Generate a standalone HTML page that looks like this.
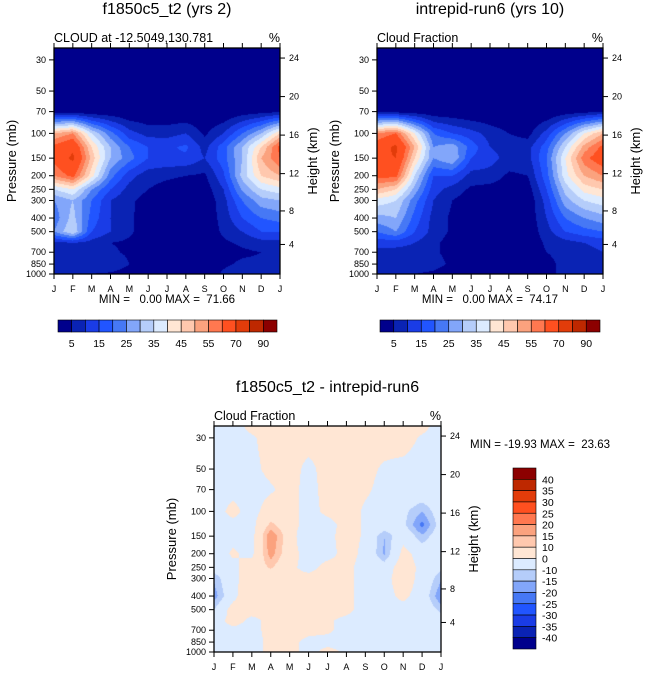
<!DOCTYPE html>
<html><head><meta charset="utf-8">
<style>
html,body{margin:0;padding:0;background:#fff;}
#wrap{position:relative;width:647px;height:676px;overflow:hidden;font-family:"Liberation Sans",sans-serif;}
canvas{position:absolute;}
svg{position:absolute;left:0;top:0;}
text{white-space:pre;}
</style></head>
<body>
<div id="wrap">
<canvas id="c1" width="226" height="226" style="left:54px;top:48px"></canvas>
<canvas id="c2" width="226" height="226" style="left:377px;top:48px"></canvas>
<canvas id="c3" width="227" height="226" style="left:214px;top:426px"></canvas>
<svg id="s" width="647" height="676"></svg>
</div>
<script>
const months = ["J","F","M","A","M","J","J","A","S","O","N","D","J"];
const pressures = [25,30,50,70,100,125,150,200,250,300,400,500,600,700,850,1000];
const pressureTicks = [30,50,70,100,150,200,250,300,400,500,700,850,1000];
const heightTicks = [4,8,12,16,20,24];
const absLevels = [5,10,15,20,25,30,35,40,45,50,55,60,70,80,90];
const absBarLabels = [5,15,25,35,45,55,70,90];
const diffLevels = [-40,-35,-30,-25,-20,-15,-10,0,10,15,20,25,30,35,40];
const diffBarLabels = [40,35,30,25,20,15,10,0,-10,-15,-20,-25,-30,-35,-40];
const palette = ["#00008c","#0a23b4","#1a3ce6","#2155ff","#4678f5","#82a6fa","#b5cdfa","#dcebff","#ffe6d4","#ffc8ae","#fba27e","#ff7850","#ff5020","#e23c0a","#be2800","#8c0000"];
// rows = pressures, cols = months
const cloudA = [
[0,0,0,0,0,0,0,0,0,0,0,0,0],
[0,0,0,0,0,0,0,0,0,0,0,0,0],
[0,0,0,0,0,0,0,0,0,0,0,0,0],
[3,2,1,1,0,0,0,0,0,0,2,3,4],
[50,55,35,22,12,8,8,10,4,10,20,30,45],
[62,68,45,30,20,15,14,16,8,18,30,45,62],
[62,72,48,30,22,15,14,14,10,18,30,50,60],
[55,62,42,22,12,7,6,5,4,14,32,45,50],
[35,40,25,15,8,5,3,2,2,10,26,35,38],
[25,30,20,10,6,3,2,1,1,8,20,28,30],
[22,32,18,10,6,2,1,1,1,7,15,20,22],
[25,35,15,10,6,2,1,1,1,6,10,15,15],
[8,10,8,5,4,2,1,1,1,4,6,8,8],
[6,7,6,6,4,2,1,1,1,3,4,5,6],
[8,8,9,10,5,2,1,1,1,4,6,6,7],
[8,5,5,4,2,1,1,1,1,6,8,9,8]];
const cloudB = [
[0,0,0,0,0,0,0,0,0,0,0,0,0],
[0,0,0,0,0,0,0,0,0,0,0,0,0],
[0,0,0,0,0,0,0,0,0,0,0,0,0],
[4,3,2,1,1,0,0,0,0,0,2,3,5],
[55,60,40,20,15,12,8,5,3,12,25,40,50],
[65,72,50,25,28,18,10,8,8,18,35,52,62],
[68,70,45,25,30,15,12,8,8,20,40,58,65],
[62,62,35,15,15,8,8,4,5,18,38,50,55],
[50,45,28,12,8,4,3,2,2,15,32,42,45],
[38,35,22,10,5,2,2,1,1,12,28,35,38],
[28,30,18,8,4,2,1,1,1,10,20,25,28],
[20,25,15,8,4,2,1,1,1,8,15,18,20],
[12,12,10,6,3,1,1,1,1,6,8,10,12],
[8,8,8,6,3,1,1,1,1,5,6,8,10],
[10,9,8,7,4,2,1,1,1,4,6,8,9],
[8,6,5,4,2,1,1,1,1,4,6,8,8]];
const cloudDiff = [
[-3,-3,2,3,3,3,3,3,3,3,3,2,-3],
[-3,-3,-1,3,3,3,3,3,3,3,3,-1,-3],
[-3,-3,-2,2,3,-2,3,3,2,-1,-2,-3,-3],
[-3,-2,-3,-1,3,-3,3,3,1,-2,-3,-3,-3],
[-3,2,-3,4,3,-3,2,3,-1,-3,-8,-15,-5],
[-3,-2,-3,12,4,-4,-3,3,-1,-4,-8,-22,-6],
[-3,-2,-3,20,5,-9,-2,3,-1,-15,-3,-14,-4],
[-4,1,-2,18,4,-4,-3,3,-2,-16,3,-4,-5],
[-6,-2,4,11,2,-3,3,2,-3,-6,6,-3,-8],
[-14,-2,4,3,2,3,3,2,-3,-3,5,-3,-14],
[-18,-3,9,2,2,3,3,2,-3,-3,2,-4,-20],
[-10,4,3,2,3,3,3,2,-3,-3,-3,-3,-12],
[-4,3,-2,2,3,2,1,-2,-3,-3,-3,-3,-6],
[-3,-2,-2,2,3,2,1,-2,-3,-3,-3,-3,-5],
[-10,-3,-3,2,2,-2,-2,-2,-3,-3,-3,-3,-3],
[-3,-3,-3,2,2,-2,2,-1,-3,-3,-3,-3,-3]];

const LT = Math.log10(24.7), LB = 3;
function yOfP(p,y0,h){return y0+(Math.log10(p)-LT)/(LB-LT)*h;}
function pOfZ(z){return z<=11?1013.25*Math.pow(1-2.25577e-5*z*1000,5.25588):226.3*Math.exp(-(z-11)/6.34);}
function xOfM(i,x0,w){return x0+i/(months.length-1)*w;}
function colorIdx(v,levels){let k=0;while(k<levels.length&&v>=levels[k])k++;return k;}
function hex(c){return [parseInt(c.substr(1,2),16),parseInt(c.substr(3,2),16),parseInt(c.substr(5,2),16)];}
const palRGB = palette.map(hex);

function fill(id,data,levels){
  const cv=document.getElementById(id),ctx=cv.getContext('2d');
  const W=cv.width,H=cv.height,img=ctx.createImageData(W,H);
  const rowY=pressures.map(p=>yOfP(p,0,H));
  for(let y=0;y<H;y++){
    let r=0;while(r<pressures.length-2&&rowY[r+1]<y+0.5)r++;
    let t=(y+0.5-rowY[r])/(rowY[r+1]-rowY[r]);t=Math.max(0,Math.min(1,t));
    for(let x=0;x<W;x++){
      const fx=(x+0.5)/W*(months.length-1);let c=Math.min(Math.floor(fx),months.length-2);const s=fx-c;
      const v=(data[r][c]*(1-s)+data[r][c+1]*s)*(1-t)+(data[r+1][c]*(1-s)+data[r+1][c+1]*s)*t;
      const col=palRGB[colorIdx(v,levels)];const o=(y*W+x)*4;
      img.data[o]=col[0];img.data[o+1]=col[1];img.data[o+2]=col[2];img.data[o+3]=255;
    }
  }
  ctx.putImageData(img,0,0);
}
fill('c1',cloudA,absLevels);fill('c2',cloudB,absLevels);fill('c3',cloudDiff,diffLevels);

const svg=document.getElementById('s');const NS="http://www.w3.org/2000/svg";
function el(tag,attrs,txt){const e=document.createElementNS(NS,tag);for(const k in attrs)e.setAttribute(k,attrs[k]);if(txt!==undefined)e.textContent=txt;svg.appendChild(e);return e;}
function txt(x,y,s,size,anchor,name,rot){const e=el('text',{x:x,y:y,'font-size':size,'text-anchor':anchor||'middle',fill:'#000'},s);
  
  
  if(rot)e.setAttribute('transform','rotate(-90 '+x+' '+y+')');return e;}

function panel(x0,y0,w,h,title,sub,mm,mmx,mmy,mmAnchor){
  const r=el('rect',{x:x0,y:y0,width:w,height:h,fill:'none',stroke:'#000','stroke-width':1.3});
  
  
  txt(x0+w/2,y0-34,title,16,'middle','panel-title');
  txt(x0,y0-6,sub,12.5,'start','panel-subtitle');
  txt(x0+w,y0-6,'%',12.5,'end','units-label');
  pressureTicks.forEach(p=>{const y=yOfP(p,y0,h);
    const t=el('line',{x1:x0-5,x2:x0,y1:y,y2:y,stroke:'#000'});
    
    
    txt(x0-8,y+3,String(p),9,'end','y-tick-label');});
  heightTicks.forEach(z=>{const y=yOfP(pOfZ(z),y0,h);
    const t=el('line',{x1:x0+w,x2:x0+w+5,y1:y,y2:y,stroke:'#000'});
    
    
    txt(x0+w+9,y+3,String(z),9,'start','height-tick-label');});
  months.forEach((m,i)=>{const x=xOfM(i,x0,w);
    const t=el('line',{x1:x,x2:x,y1:y0+h,y2:y0+h+5,stroke:'#000'});
    
    
    const t2=el('line',{x1:x,x2:x,y1:y0,y2:y0-5,stroke:'#000'});
    
    
    txt(x,y0+h+18,m,9,'middle','month-label');});
  txt(x0-38,y0+h/2,'Pressure (mb)',13,'middle','y-axis-title',true);
  txt(x0+w+37,y0+h/2,'Height (km)',13,'middle','height-axis-title',true);
  txt(mmx,mmy,mm,11.5,mmAnchor,'min-max-label');
}
panel(54,48,226,226,'f1850c5_t2 (yrs 2)','CLOUD at -12.5049,130.781','MIN =   0.00 MAX =  71.66',167,303,'middle');
panel(377,48,226,226,'intrepid-run6 (yrs 10)','Cloud Fraction','MIN =   0.00 MAX =  74.17',490,303,'middle');
panel(214,426,227,226,'f1850c5_t2 - intrepid-run6','Cloud Fraction','MIN = -19.93 MAX =  23.63',470,448,'start');

function hbar(x0,y0,w,h){const bw=w/palette.length;
  palette.forEach((c,i)=>{const r=el('rect',{x:x0+i*bw,y:y0,width:bw,height:h,fill:c,stroke:'#000','stroke-width':0.6});
    
    });
  absLevels.forEach((l,i)=>{if(absBarLabels.indexOf(l)>=0)txt(x0+(i+1)*bw,y0+h+15,String(l),10.5,'middle','colorbar-label');});
}
hbar(58,320,219,12);hbar(380,320,220,12);
(function(){const x0=513,y0=468,w=23,h=181,bh=h/palette.length;
  palette.slice().reverse().forEach((c,i)=>{const r=el('rect',{x:x0,y:y0+i*bh,width:w,height:bh,fill:c,stroke:'#000','stroke-width':0.6});
    
    });
  diffBarLabels.forEach((l,i)=>txt(x0+w+6,y0+(i+1)*bh+4,String(l),10.5,'start','diff-colorbar-label'));
})();
</script>
</body></html>
